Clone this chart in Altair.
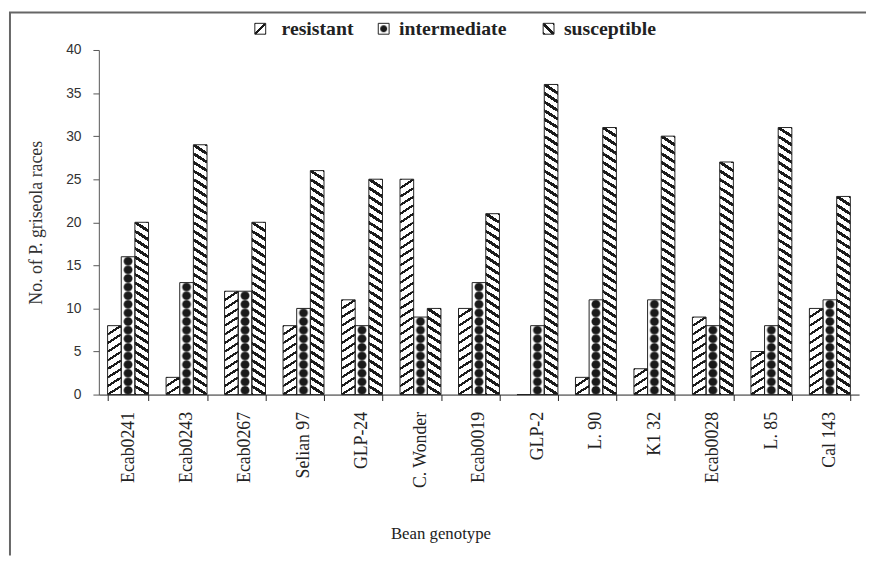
import altair as alt
import pandas as pd

genotypes = ["Ecab0241", "Ecab0243", "Ecab0267", "Selian 97", "GLP-24", "C. Wonder",
             "Ecab0019", "GLP-2", "L. 90", "K1 32", "Ecab0028", "L. 85", "Cal 143"]
series = ["resistant", "intermediate", "susceptible"]
resistant = [8, 2, 12, 8, 11, 25, 10, 0, 2, 3, 9, 5, 10]
intermediate = [16, 13, 12, 10, 8, 9, 13, 8, 11, 11, 8, 8, 11]
susceptible = [20, 29, 20, 26, 25, 10, 21, 36, 31, 30, 27, 31, 23]
y_ticks = [0, 5, 10, 15, 20, 25, 30, 35, 40]

values = {"resistant": resistant, "intermediate": intermediate, "susceptible": susceptible}

rows, tiles = [], []
for i, g in enumerate(genotypes):
    for s in series:
        v = values[s][i]
        rows.append({"genotype": g, "series": s, "value": v})
        for k in range(v):
            tiles.append({"genotype": g, "series": s, "lo": max(0, k - 0.04), "hi": k + 1})
bars = pd.DataFrame(rows)
tiles_df = pd.DataFrame(tiles)

K, W = "#1a1a1a", "#ffffff"


def stripes(x1, y1, x2, y2, half):
    a, b = half, 0.5 - half
    stops = [(0, K), (a, K), (a, W), (b, W), (b, K), (0.5 + a, K), (0.5 + a, W),
             (0.5 + b, W), (0.5 + b, K), (1, K)]
    return alt.LinearGradient(gradient="linear", x1=x1, y1=y1, x2=x2, y2=y2,
                              stops=[alt.GradientStop(offset=o, color=c) for o, c in stops])


grad = {
    "resistant": stripes(0, 0, 1, 1, 0.075),
    "susceptible": stripes(0, 1, 1, 0, 0.1),
    "intermediate": alt.RadialGradient(
        gradient="radial", x1=0.5, y1=0.5, r1=0, x2=0.5, y2=0.5, r2=0.5,
        stops=[alt.GradientStop(offset=0, color=K), alt.GradientStop(offset=0.55, color=K),
               alt.GradientStop(offset=0.72, color=W), alt.GradientStop(offset=1, color=W)]),
}

xaxis = alt.Axis(labelAngle=-90, tickBand="extent", tickSize=6, labelPadding=11,
                 labelFont="Liberation Serif", labelFontSize=18, labelColor="#222",
                 domainColor="#222", tickColor="#222", labelLimit=0,
                 titleFont="Liberation Serif", titleFontSize=17, titleFontWeight="normal",
                 titleColor="#222", titlePadding=38, titleX=346)
yaxis = alt.Axis(values=y_ticks, tickSize=6, labelPadding=12, labelFont="Liberation Sans",
                 labelFontSize=14, labelColor="#333", domainColor="#555", tickColor="#555",
                 grid=False, titleFont="Liberation Serif", titleFontSize=18,
                 titleFontWeight="normal", titleColor="#333", titlePadding=20)

xenc = alt.X("genotype:N", sort=genotypes, title="Bean genotype", axis=xaxis,
             scale=alt.Scale(paddingInner=0.3, paddingOuter=0.15))
xoff = alt.XOffset("series:N", sort=series,
                   scale=alt.Scale(domain=series, paddingInner=0, paddingOuter=0))
yscale = alt.Scale(domain=[0, 40], nice=False)
ytitle = "No. of P. griseola races"

layers = []
for s in series:
    layers.append(
        alt.Chart(tiles_df).transform_filter(alt.datum.series == s)
        .mark_bar(fill=grad[s], strokeWidth=0)
        .encode(x=xenc, xOffset=xoff,
                y=alt.Y("lo:Q", scale=yscale, axis=yaxis, title=ytitle),
                y2="hi:Q")
    )

layers.append(
    alt.Chart(bars).mark_bar(fillOpacity=0, stroke="#222", strokeWidth=1)
    .encode(x=xenc, xOffset=xoff,
            y=alt.Y("value:Q", scale=yscale, axis=yaxis, title=ytitle))
)

one = pd.DataFrame({"a": [0]})
for s, ix, tx in zip(series, [158, 283, 450], [185, 304, 471]):
    layers.append(
        alt.Chart(one).mark_rect(fill=grad[s], stroke="#222", strokeWidth=1)
        .encode(x=alt.value(ix), x2=alt.value(ix + 11), y=alt.value(-27), y2=alt.value(-16))
    )
    layers.append(
        alt.Chart(one).mark_text(align="left", baseline="middle", font="Liberation Serif",
                                 fontSize=20, fontWeight="bold", color="#222")
        .encode(x=alt.value(tx), y=alt.value(-21), text=alt.value(s))
    )

layers.append(
    alt.Chart(one).mark_rule(color="#666", strokeWidth=2)
    .encode(x=alt.value(-90), y=alt.value(-38), y2=alt.value(512))
)
layers.append(
    alt.Chart(one).mark_rule(color="#666", strokeWidth=2)
    .encode(x=alt.value(-91), x2=alt.value(777), y=alt.value(-38))
)

chart = alt.layer(*layers).properties(width=770, height=349, padding=0,
                                      background="white").configure_view(stroke=None)

chart.save("out.html", embed_options={"renderer": "svg", "actions": False})
